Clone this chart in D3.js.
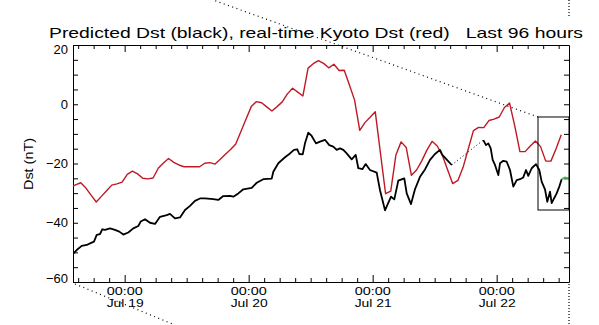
<!DOCTYPE html>
<html><head><meta charset="utf-8">
<script src="https://cdn.jsdelivr.net/npm/d3@7"></script>
<style>
body{margin:0;background:#fff}
svg{display:block}
text{font-family:"Liberation Sans",Arial,sans-serif;fill:#000}
</style>
</head><body>
<svg id="c" width="599" height="325"></svg>
<script>
// ---- data ----
const startTime = "2024-07-18T14:00:00Z";
const endTime   = "2024-07-22T14:00:00Z";
const yTicks = [20, 0, -20, -40, -60];
const dayLabels = ["Jul 19", "Jul 20", "Jul 21", "Jul 22"];
const titleText = "Predicted Dst (black), real-time Kyoto Dst (red)   Last 96 hours";
const yLabel = "Dst (nT)";

// Kyoto Dst, hourly, centred on half hours starting at hour -0.5
const kyotoDst = [-28.0,
 -27.2,-26.5,-28.3,-30.7,-33.0,-31.1,-29.2,-27.3,-26.9,-26.3,
 -23.7,-22.6,-23.5,-25.0,-25.2,-24.9,-21.6,-19.8,-18.3,-19.6,
 -20.5,-21.1,-21.1,-21.1,-21.1,-19.9,-19.7,-20.2,-18.6,-16.9,
 -15.3,-13.4,-9.2,-5.0,-0.8,0.9,0.5,-0.9,-2.3,-0.8,
 0.8,3.5,5.4,4.1,2.8,12.2,13.7,14.7,13.8,12.3,
 13.5,11.4,11.5,6.5,1.4,-8.8,-6.2,-4.4,-2.5,-16.4,
 -30.2,-29.3,-17.1,-12.7,-14.6,-24.0,-22.2,-19.1,-15.5,-12.5,
 -14.1,-17.3,-22.1,-26.8,-25.7,-21.3,-15.1,-8.9,-7.8,-7.9,
 -5.5,-5.0,-4.3,-1.1,0.4,-7.3,-16.0,-16.0,-14.1,-12.4,
 -14.3,-19.2,-19.2,-15.0,-10.3];

// Predicted Dst: hours since start, values
const predHours = [0,0.72,1.68,2.65,3.62,4.06,4.59,5.23,5.67,6.19,
 7.16,8.13,8.96,9.74,10.7,11.67,12.64,13.1,13.94,14.9,
 15.87,16.84,18.14,18.77,19.74,20.71,21.68,22.65,23.61,24.58,
 25.55,27.15,28.12,29.09,30.39,31.03,32.0,32.96,34.59,35.56,
 36.83,38.46,38.77,39.74,41.03,42.0,42.77,43.41,43.8,44.46,
 44.9,45.54,46.2,47.03,47.81,48.77,49.6,50.38,51.04,51.68,
 52.32,52.97,53.94,54.72,55.22,56.0,56.65,57.48,58.78,59.42,
 60.39,61.55,62.19,62.96,64.12,64.59,65.42,66.19,67.16,68.13,
 69.1,70.06,71.03,71.48,72.52,73.3,
 79.41,79.94,80.38,80.85,81.23,81.68,82.32,82.65,83.28,83.94,
 84.58,85.22,85.88,86.52,87.15,87.68,88.12,88.78,89.61,90.25,
 90.71,91.35,91.8,92.32,92.65,93.1,93.61,94.12,94.58];
const predDst = [-50.5,-49.2,-47.8,-47.5,-46.7,-46.4,-44.1,-43.8,-42.2,-42.4,
 -41.9,-42.4,-43.0,-44.0,-43.3,-41.9,-41.1,-39.6,-38.8,-40.0,
 -40.4,-38.0,-37.4,-37.0,-38.5,-38.2,-35.7,-34.3,-32.6,-31.8,
 -31.8,-32.0,-32.3,-31.0,-30.9,-31.2,-30.1,-28.7,-28.2,-26.5,
 -25.3,-25.1,-22.8,-19.9,-17.9,-16.6,-15.4,-15.2,-16.8,-16.9,
 -13.2,-9.6,-10.7,-13.2,-12.6,-12.0,-13.8,-14.3,-15.4,-14.9,
 -15.4,-16.6,-18.6,-17.1,-21.6,-21.9,-20.2,-22.2,-23.1,-29.0,
 -35.8,-31.2,-32.1,-25.8,-25.0,-30.1,-33.7,-28.7,-24.5,-22.0,
 -18.8,-16.8,-15.4,-17.1,-19.0,-20.5,
 -12.1,-13.8,-13.2,-14.9,-18.8,-20.5,-23.9,-19.9,-19.1,-19.4,
 -22.2,-27.8,-25.6,-25.3,-24.7,-22.2,-24.2,-21.6,-20.2,-22.2,
 -26.1,-28.7,-32.9,-29.5,-33.4,-31.8,-30.1,-27.8,-25.3];

// forecast tail (green)
const forecastHours = [94.58, 95.23, 96.0];
const forecastDst = [-25.3, -24.7, -25.0];

// zoom box (hours, Dst)
const boxHours = [90, 96];
const boxDst = [-4.3, -35.7];

// ---- drawing ----
const W = 599, H = 325;
const m = {left: 73, right: 569, top: 45, bottom: 282};
const svg = d3.select("#c");
const t0 = new Date(startTime), t1 = new Date(endTime);
const hr = h => new Date(t0.getTime() + h * 3600e3);

const x = d3.scaleUtc().domain([t0, t1]).range([m.left, m.right]);
const y = d3.scaleLinear().domain([-60, 20]).range([m.bottom, m.top]);

svg.append("defs").append("clipPath").attr("id", "clip")
  .append("rect").attr("x", m.left).attr("y", m.top)
  .attr("width", m.right - m.left).attr("height", m.bottom - m.top);

// title
svg.append("text").attr("x", 49).attr("y", 38)
  .attr("font-size", 15).attr("textLength", 534).attr("lengthAdjust", "spacingAndGlyphs")
  .style("white-space", "pre").attr("xml:space", "preserve")
  .text(titleText);

// y label
svg.append("text").attr("transform", "translate(33,164) rotate(-90)")
  .attr("text-anchor", "middle").attr("font-size", 13)
  .attr("textLength", 52).attr("lengthAdjust", "spacingAndGlyphs")
  .text(yLabel);

const yMinor = d3.range(-60, 21, 5);
const hourTicks = d3.utcHour.every(3).range(hr(0.001), hr(96.001));

// left axis
const gl = svg.append("g").attr("transform", `translate(${m.left},0)`)
  .call(d3.axisLeft(y).tickValues(yMinor).tickSize(-5).tickSizeOuter(0).tickFormat(""));
// right axis
const gr = svg.append("g").attr("transform", `translate(${m.right},0)`)
  .call(d3.axisRight(y).tickValues(yMinor).tickSize(-5).tickSizeOuter(0).tickFormat(""));
// bottom axis
const gb = svg.append("g").attr("transform", `translate(0,${m.bottom})`)
  .call(d3.axisBottom(x).tickValues(hourTicks).tickSize(-4).tickSizeOuter(0).tickFormat(""));
// top axis
const gt = svg.append("g").attr("transform", `translate(0,${m.top})`)
  .call(d3.axisTop(x).tickValues(hourTicks).tickSize(-4).tickSizeOuter(0).tickFormat(""));
[gb, gt].forEach((g, i) => {
  g.selectAll(".tick line").attr("y2", d => (d.getUTCHours() === 0 ? 7 : 4) * (i === 0 ? -1 : 1));
});
[gl, gr, gb, gt].forEach(g => {
  g.selectAll("path.domain").attr("stroke", "#000").attr("stroke-width", 1);
  g.selectAll(".tick line").attr("stroke", "#000");
});

// y tick labels
const fmt = d3.format("d");
svg.append("g").selectAll("text").data(yTicks).join("text")
  .attr("x", 68).attr("text-anchor", "end").attr("font-size", 13)
  .attr("y", d => y(d) + (d === 20 ? 4 : d === -60 ? -4 : 0))
  .attr("dy", "0.35em")
  .text(d => fmt(d));

// x labels at midnights
const mids = hourTicks.filter(d => d.getUTCHours() === 0);
const xl = svg.append("g").selectAll("g").data(mids).join("g")
  .attr("transform", d => `translate(${x(d)},0)`);
xl.append("text").attr("x", -18).attr("y", 294.5).attr("font-size", 11)
  .attr("textLength", 36).attr("lengthAdjust", "spacingAndGlyphs").text("00:00");
xl.append("text").attr("x", -18).attr("y", 306.5).attr("font-size", 11)
  .attr("textLength", 37).attr("lengthAdjust", "spacingAndGlyphs")
  .text((d, i) => dayLabels[i]);

const plot = svg.append("g").attr("clip-path", "url(#clip)");
const line = d3.line().x(d => x(d[0])).y(d => y(d[1]));

// red Kyoto Dst
const redPts = kyotoDst.map((v, i) => [hr(i - 0.5), v]);
plot.append("path").attr("d", line(redPts)).attr("fill", "none")
  .attr("stroke", "#bf1a24").attr("stroke-width", 1.4).attr("stroke-linejoin", "round");

// predicted Dst, split at gaps
const pts = predHours.map((h, i) => [h, predDst[i]]);
const segs = [[]];
pts.forEach((p, i) => {
  if (i > 0 && p[0] - pts[i - 1][0] > 3) segs.push([]);
  segs[segs.length - 1].push(p);
});
for (let s = 1; s < segs.length; s++) {
  const a = segs[s - 1][segs[s - 1].length - 1], b = segs[s][0];
  plot.append("path").attr("d", line([[hr(a[0]), a[1]], [hr(b[0]), b[1]]]))
    .attr("fill", "none").attr("stroke", "#000").attr("stroke-width", 1)
    .attr("stroke-dasharray", "1,2.5");
}
segs.forEach(sg => {
  plot.append("path").attr("d", line(sg.map(p => [hr(p[0]), p[1]])))
    .attr("fill", "none").attr("stroke", "#000").attr("stroke-width", 1.8)
    .attr("stroke-linejoin", "round");
});
plot.append("path").attr("d", line(forecastHours.map((h, i) => [hr(h), forecastDst[i]])))
  .attr("fill", "none").attr("stroke", "#4cb84c").attr("stroke-width", 1.8);

// zoom box
const bx0 = x(hr(boxHours[0])), bx1 = x(hr(boxHours[1]));
const by0 = y(boxDst[0]), by1 = y(boxDst[1]);
svg.append("rect").attr("x", bx0).attr("y", by0)
  .attr("width", bx1 - bx0).attr("height", by1 - by0)
  .attr("fill", "none").attr("stroke", "#000").attr("stroke-width", 1);

// dotted guide lines
const dots = (x1, y1, x2, y2, dash) => svg.append("line")
  .attr("x1", x1).attr("y1", y1).attr("x2", x2).attr("y2", y2)
  .attr("stroke", "#000").attr("stroke-width", 1.2).attr("stroke-dasharray", dash);
dots(bx0, by0, bx0 - (by0 - 0) / 0.36, 0, "1,3.5");
dots(m.left + 2, m.bottom + 2, 175, H, "1,3.5");
dots(m.right, 0, m.right, 18, "1,2");
dots(m.right, m.bottom + 2, m.right, H, "1,2");
</script>
</body></html>
